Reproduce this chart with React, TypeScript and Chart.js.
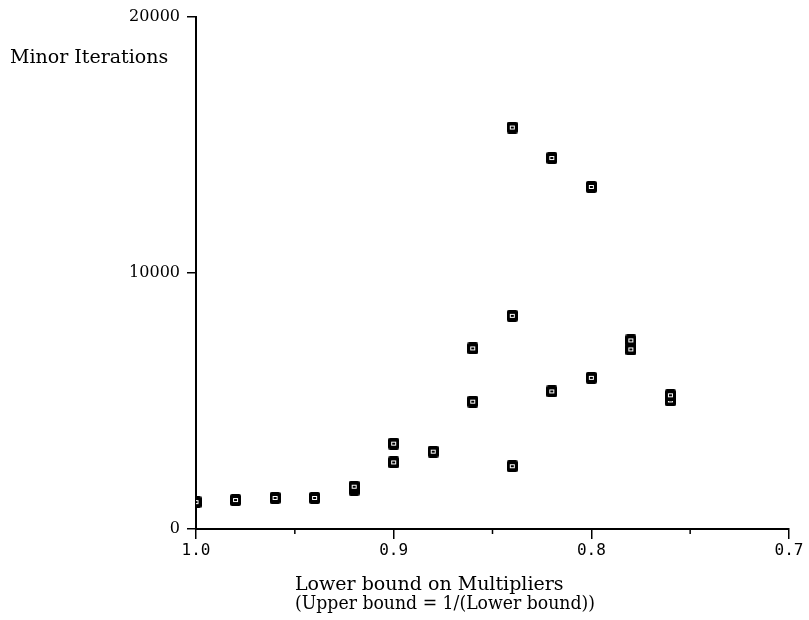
import React, { useEffect, useRef } from "react";
import { Chart, registerables } from "chart.js";

Chart.register(...registerables);

// Lower bound on multipliers (x) and minor iterations (y)
const multipliers = [
  1.0, 0.98, 0.96, 0.94, 0.92, 0.92, 0.9, 0.9, 0.88, 0.86, 0.86, 0.84, 0.84, 0.84,
  0.82, 0.82, 0.8, 0.8, 0.78, 0.78, 0.76, 0.76,
];
const minorIterations = [
  1050, 1130, 1210, 1210, 1530, 1650, 3330, 2600, 3020, 4970, 7050, 8320, 2450, 15670,
  5370, 14480, 5900, 13350, 7360, 7010, 5020, 5220,
];

const xTickValues = [1.0, 0.9, 0.8, 0.7];
const xMinorTickValues = [0.95, 0.85, 0.75];
const yTickValues = [0, 10000, 20000];

const yTitle = "Minor Iterations";
const xTitleLines = ["Lower bound on Multipliers", "(Upper bound = 1/(Lower bound))"];

function makeMarker(): HTMLCanvasElement {
  const c = document.createElement("canvas");
  c.width = 11;
  c.height = 12;
  const g = c.getContext("2d")!;
  g.fillStyle = "#000";
  g.beginPath();
  g.moveTo(2, 0);
  g.lineTo(9, 0);
  g.quadraticCurveTo(11, 0, 11, 2);
  g.lineTo(11, 10);
  g.quadraticCurveTo(11, 12, 9, 12);
  g.lineTo(2, 12);
  g.quadraticCurveTo(0, 12, 0, 10);
  g.lineTo(0, 2);
  g.quadraticCurveTo(0, 0, 2, 0);
  g.fill();
  g.fillStyle = "#fff";
  g.fillRect(3, 4, 5, 4);
  g.fillStyle = "#000";
  g.fillRect(4, 5, 3, 2);
  return c;
}

const decorPlugin = {
  id: "decor",
  afterDraw(chart: any) {
    const { ctx, scales } = chart;
    const x = scales.x;
    const y = scales.y;
    ctx.save();
    ctx.strokeStyle = "#000";
    ctx.lineWidth = 1.5;
    xMinorTickValues.forEach((v) => {
      const px = x.getPixelForValue(v);
      ctx.beginPath();
      ctx.moveTo(px, y.bottom);
      ctx.lineTo(px, y.bottom + 5);
      ctx.stroke();
    });
    ctx.fillStyle = "#000";
    ctx.textBaseline = "alphabetic";
    ctx.textAlign = "left";
    ctx.font = '19px "DejaVu Serif"';
    ctx.fillText(yTitle, 10, 63);
    ctx.fillText(xTitleLines[0], 295, 590);
    ctx.fillText(xTitleLines[1], 295, 609, 300);
    ctx.restore();
  },
};

export default function App() {
  const ref = useRef<HTMLCanvasElement>(null);
  useEffect(() => {
    const marker = makeMarker();
    const chart = new Chart(ref.current!, {
      type: "scatter",
      data: {
        datasets: [
          {
            data: multipliers.map((m, i) => ({ x: m, y: minorIterations[i] })),
            pointStyle: marker as any,
            pointRadius: 6,
            backgroundColor: "#000",
            borderColor: "#000",
          },
        ],
      },
      options: {
        animation: false,
        responsive: false,
        maintainAspectRatio: false,
        layout: { padding: { left: 0, right: 20, top: 15, bottom: 0 } },
        plugins: { legend: { display: false }, tooltip: { enabled: false } },
        scales: {
          x: {
            type: "linear",
            reverse: true,
            min: 0.7,
            max: 1.0,
            afterBuildTicks: (s: any) => {
              s.ticks = xTickValues.map((v) => ({ value: v }));
            },
            afterFit: (s: any) => {
              s.height = 91;
            },
            ticks: {
              color: "#000",
              padding: 2,
              maxRotation: 0,
              autoSkip: false,
              font: { family: "DejaVu Sans Mono", size: 16 },
              callback: (v: any) => Number(v).toFixed(1),
            },
            grid: {
              drawOnChartArea: false,
              drawTicks: true,
              tickLength: 10,
              color: "#000",
              lineWidth: 1.5,
            },
            border: { display: true, color: "#000", width: 2 },
          },
          y: {
            min: 0,
            max: 20000,
            afterBuildTicks: (s: any) => {
              s.ticks = yTickValues.map((v) => ({ value: v }));
            },
            afterFit: (s: any) => {
              s.width = 196;
            },
            ticks: {
              color: "#000",
              padding: 7,
              autoSkip: false,
              font: { family: "DejaVu Serif", size: 16 },
              callback: (v: any) => String(v),
            },
            grid: {
              drawOnChartArea: false,
              drawTicks: true,
              tickLength: 9,
              color: "#000",
              lineWidth: 1.5,
            },
            border: { display: true, color: "#000", width: 2 },
          },
        },
      },
      plugins: [decorPlugin],
    });
    return () => chart.destroy();
  }, []);
  return (
    <div style={{ position: "fixed", left: 0, top: 0, width: 809, height: 620, background: "#fff" }}>
      <canvas ref={ref} width={809} height={620} style={{ display: "block" }} />
    </div>
  );
}
